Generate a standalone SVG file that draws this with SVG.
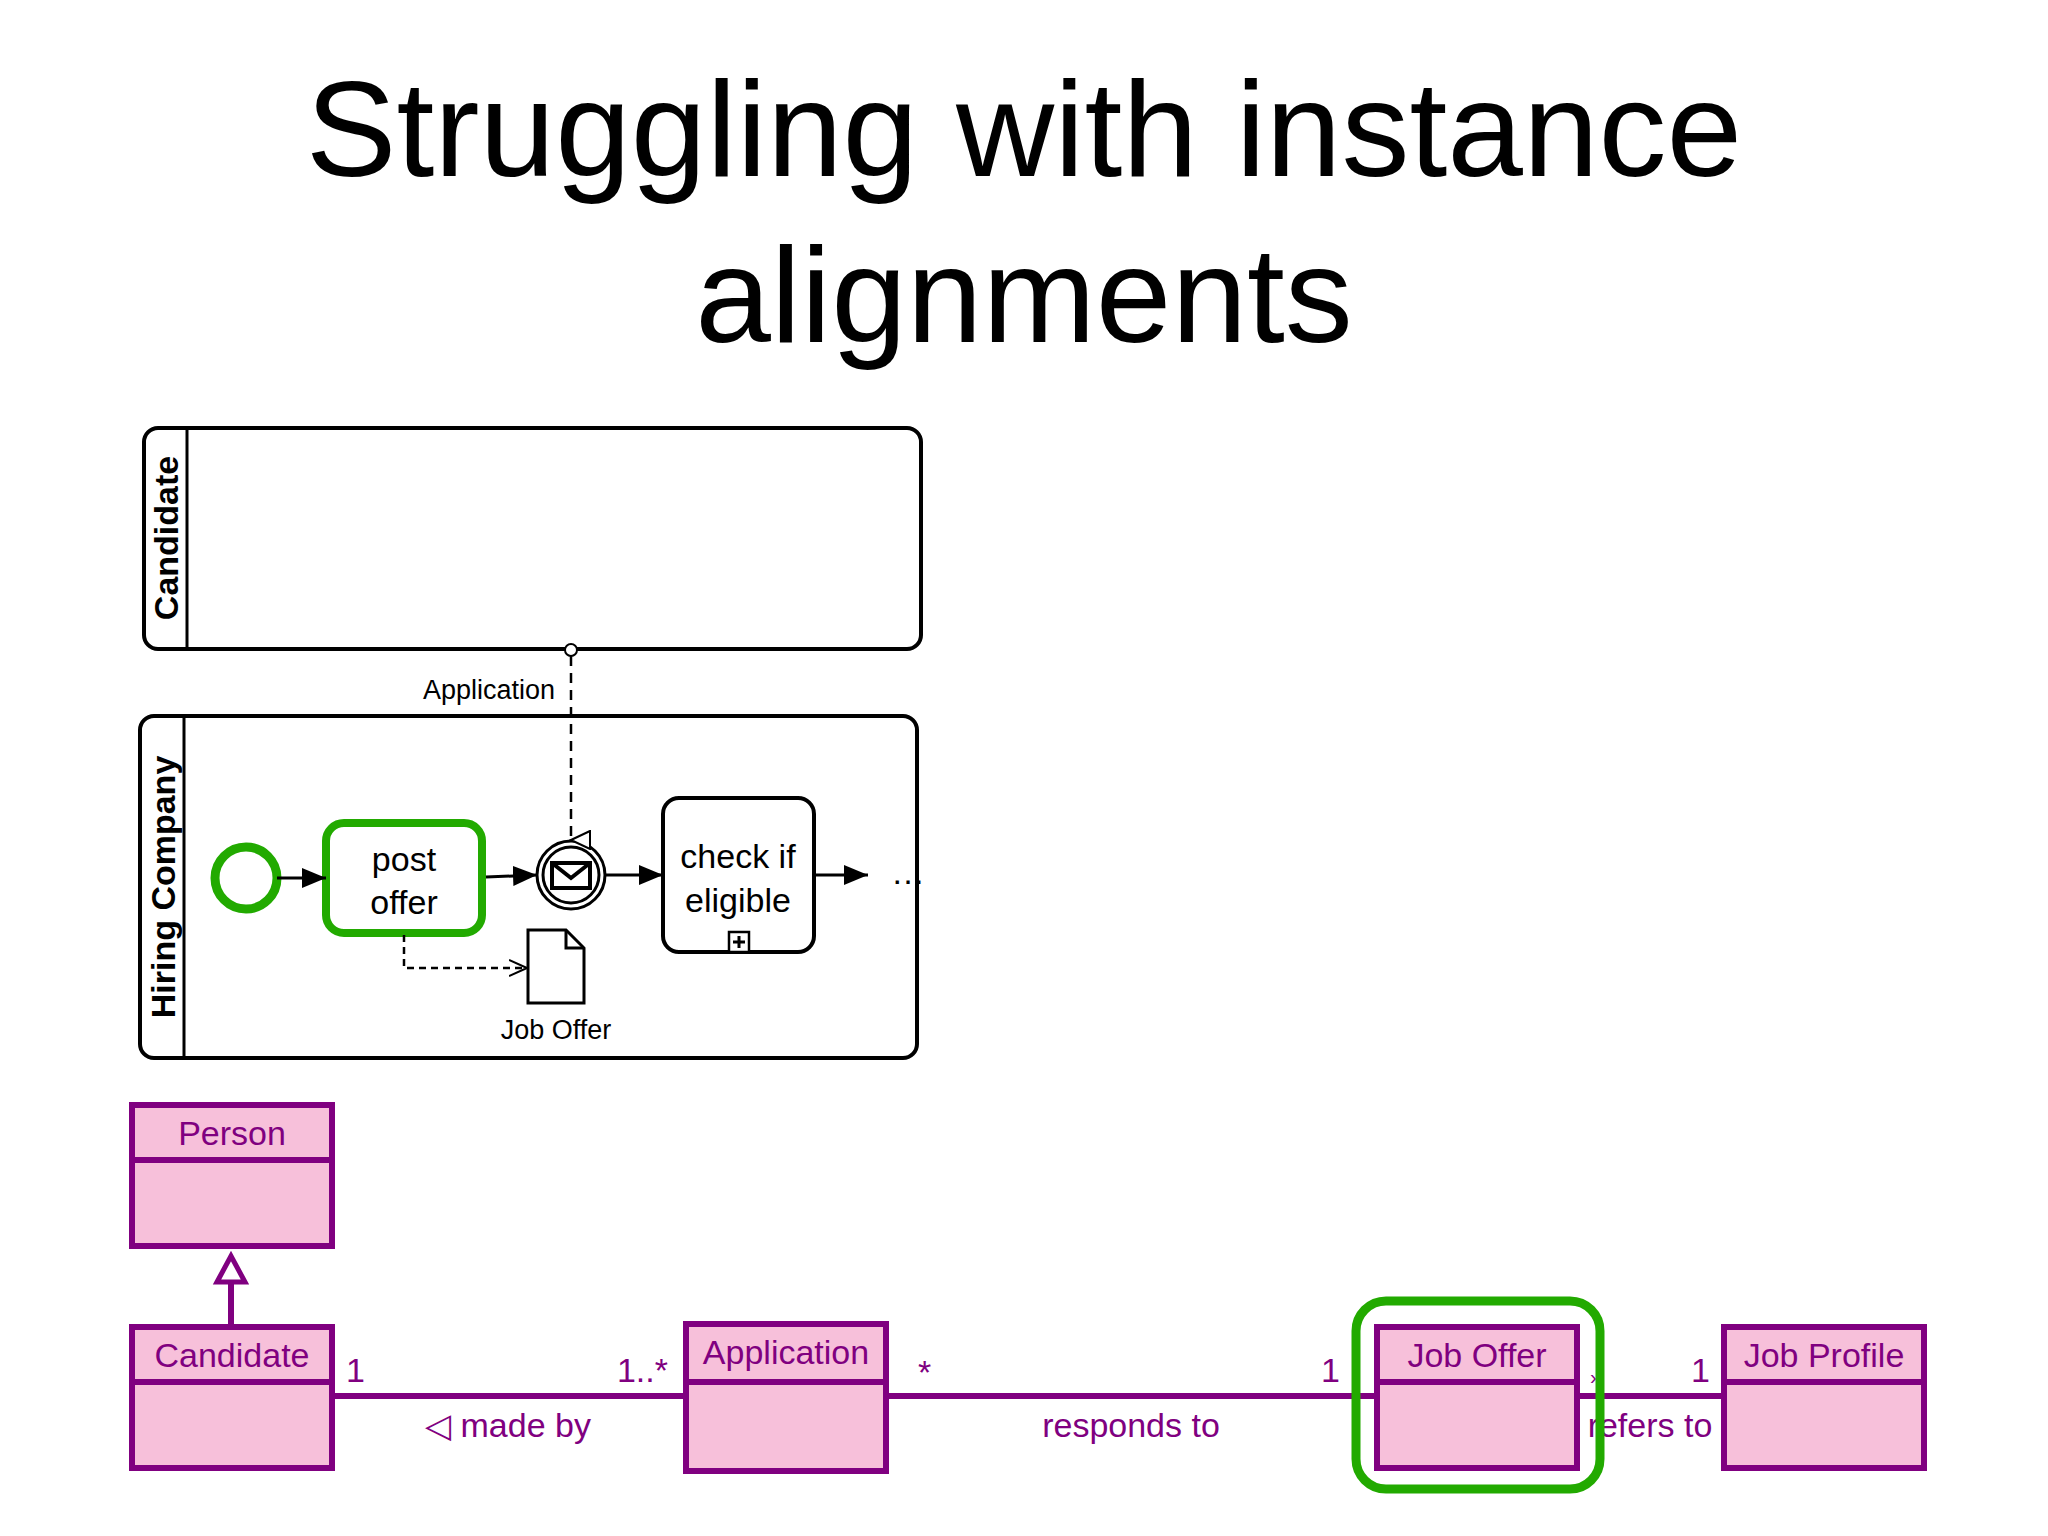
<svg xmlns="http://www.w3.org/2000/svg" width="2048" height="1536" viewBox="0 0 2048 1536">
<style>
text{font-family:"Liberation Sans",Arial,sans-serif}
.pool{fill:#fff;stroke:#000;stroke-width:4}
.lane{font-weight:bold;font-size:34px}
.bp{font-size:34px}
.cls{fill:#f7c0da;stroke:#800080;stroke-width:6}
.u{fill:#800080;font-size:34px}
.seq{stroke:#000;stroke-width:3;fill:none}
.asc{stroke:#800080;stroke-width:6;fill:none}
</style>
<defs>
<marker id="ah" markerWidth="10" markerHeight="10" refX="9" refY="5" orient="auto" markerUnits="userSpaceOnUse" viewBox="0 0 10 10"><path d="M0,0L10,5L0,10z" fill="#000"/></marker>
<marker id="big" markerWidth="24" markerHeight="20" refX="24" refY="10" orient="auto" markerUnits="userSpaceOnUse"><path d="M0,0L24,10L0,20z" fill="#000"/></marker>
<marker id="open" markerWidth="20" markerHeight="20" refX="18" refY="10" orient="auto" markerUnits="userSpaceOnUse"><path d="M0,2L18,10L0,18" fill="none" stroke="#000" stroke-width="2"/></marker>
<marker id="hollow" markerWidth="20" markerHeight="22" refX="10" refY="20" orient="auto" markerUnits="userSpaceOnUse"><path d="M1,1L10,20L19,1z" fill="#fff" stroke="#000" stroke-width="2"/></marker>
</defs>
<g id="title">
<text x="1024" y="176" text-anchor="middle" font-size="136" font-family="Liberation Sans,Arial,sans-serif" font-weight="500">Struggling with instance</text>
<text x="1024" y="342" text-anchor="middle" font-size="136">alignments</text>
</g>
<g id="pool-candidate">
<rect class="pool" x="144" y="428" width="777" height="221" rx="14"/>
<line x1="187" y1="428" x2="187" y2="649" stroke="#000" stroke-width="3"/>
<text class="lane" transform="translate(178,538) rotate(-90)" text-anchor="middle">Candidate</text>
</g>
<g id="pool-hiring">
<rect class="pool" x="140" y="716" width="777" height="342" rx="14"/>
<line x1="184" y1="716" x2="184" y2="1058" stroke="#000" stroke-width="3"/>
<text class="lane" transform="translate(175,887) rotate(-90)" text-anchor="middle">Hiring Company</text>
</g>
<g id="start"><circle cx="246" cy="878" r="31" fill="#fff" stroke="#22aa00" stroke-width="9"/></g>
<g id="post-offer">
<rect x="326" y="823" width="156" height="110" rx="18" fill="#fff" stroke="#22aa00" stroke-width="8"/>
<text class="bp" x="404" y="871" text-anchor="middle">post</text>
<text class="bp" x="404" y="914" text-anchor="middle">offer</text>
</g>
<g id="msg-event">
<circle cx="571" cy="875" r="34" fill="#fff" stroke="#000" stroke-width="3"/>
<circle cx="571" cy="875" r="28" fill="none" stroke="#000" stroke-width="3"/>
<rect x="552" y="863" width="38" height="25" fill="#fff" stroke="#000" stroke-width="4"/>
<path d="M552,863L571,878L590,863" fill="none" stroke="#000" stroke-width="4"/>
</g>
<g id="check-eligible">
<rect x="663" y="798" width="151" height="154" rx="16" fill="#fff" stroke="#000" stroke-width="4"/>
<text class="bp" x="738" y="868" text-anchor="middle">check if</text>
<text class="bp" x="738" y="912" text-anchor="middle">eligible</text>
<rect x="729" y="932" width="20" height="20" fill="#fff" stroke="#000" stroke-width="2.5"/>
<path d="M739,936V948M733,942H745" stroke="#000" stroke-width="3"/>
</g>
<g id="data-job-offer">
<path d="M528,930H566L584,948V1003H528Z" fill="#fff" stroke="#000" stroke-width="3"/>
<path d="M566,930V948H584" fill="none" stroke="#000" stroke-width="3"/>
<text x="556" y="1039" text-anchor="middle" font-size="27">Job Offer</text>
</g>
<text x="891" y="884" font-size="34">…</text>
<g id="connectors">
<line class="seq" x1="277" y1="878" x2="326" y2="878" marker-end="url(#big)"/>
<line class="seq" x1="486" y1="877" x2="537" y2="875" marker-end="url(#big)"/>
<line class="seq" x1="605" y1="875" x2="663" y2="875" marker-end="url(#big)"/>
<line class="seq" x1="814" y1="875" x2="868" y2="875" marker-end="url(#big)"/>
<path d="M404,935V968H527" fill="none" stroke="#000" stroke-width="2.5" stroke-dasharray="7,5" marker-end="url(#open)"/>
<circle cx="571" cy="650" r="6" fill="#fff" stroke="#000" stroke-width="2"/>
<path d="M571,656V840" fill="none" stroke="#000" stroke-width="2.5" stroke-dasharray="10,7" marker-end="url(#hollow)"/>
<text x="555" y="699" text-anchor="end" font-size="27">Application</text>
<line x1="231" y1="1326" x2="231" y2="1282" stroke="#800080" stroke-width="6"/>
<path d="M217,1282L231,1256L245,1282Z" fill="#fff" stroke="#800080" stroke-width="5"/>
<line class="asc" x1="332" y1="1396" x2="686" y2="1396"/>
<line class="asc" x1="886" y1="1396" x2="1377" y2="1396"/>
<line class="asc" x1="1577" y1="1396" x2="1724" y2="1396"/>
<text class="u" x="346" y="1382">1</text>
<text class="u" x="668" y="1382" text-anchor="end">1..*</text>
<text class="u" x="508" y="1437" text-anchor="middle">◁ made by</text>
<text class="u" x="918" y="1384">*</text>
<text class="u" x="1131" y="1437" text-anchor="middle">responds to</text>
<text class="u" x="1340" y="1382" text-anchor="end">1</text>
<text x="1590" y="1384" fill="#800080" font-size="20">›</text>
<text class="u" x="1710" y="1382" text-anchor="end">1</text>
<text class="u" x="1650" y="1437" text-anchor="middle">refers to</text>
</g>
<g id="uml-person"><rect class="cls" x="132" y="1105" width="200" height="141"/><line x1="132" y1="1160" x2="332" y2="1160" stroke="#800080" stroke-width="6"/><text class="u" x="232" y="1145" text-anchor="middle">Person</text></g>
<g id="uml-candidate"><rect class="cls" x="132" y="1327" width="200" height="141"/><line x1="132" y1="1382" x2="332" y2="1382" stroke="#800080" stroke-width="6"/><text class="u" x="232" y="1367" text-anchor="middle">Candidate</text></g>
<g id="uml-application"><rect class="cls" x="686" y="1324" width="200" height="147"/><line x1="686" y1="1382" x2="886" y2="1382" stroke="#800080" stroke-width="6"/><text class="u" x="786" y="1364" text-anchor="middle">Application</text></g>
<g id="uml-job-offer"><rect class="cls" x="1377" y="1327" width="200" height="141"/><line x1="1377" y1="1382" x2="1577" y2="1382" stroke="#800080" stroke-width="6"/><text class="u" x="1477" y="1367" text-anchor="middle">Job Offer</text>
<rect x="1356" y="1301" width="244" height="188" rx="30" fill="none" stroke="#22aa00" stroke-width="9"/></g>
<g id="uml-job-profile"><rect class="cls" x="1724" y="1327" width="200" height="141"/><line x1="1724" y1="1382" x2="1924" y2="1382" stroke="#800080" stroke-width="6"/><text class="u" x="1824" y="1367" text-anchor="middle">Job Profile</text></g>
</svg>
